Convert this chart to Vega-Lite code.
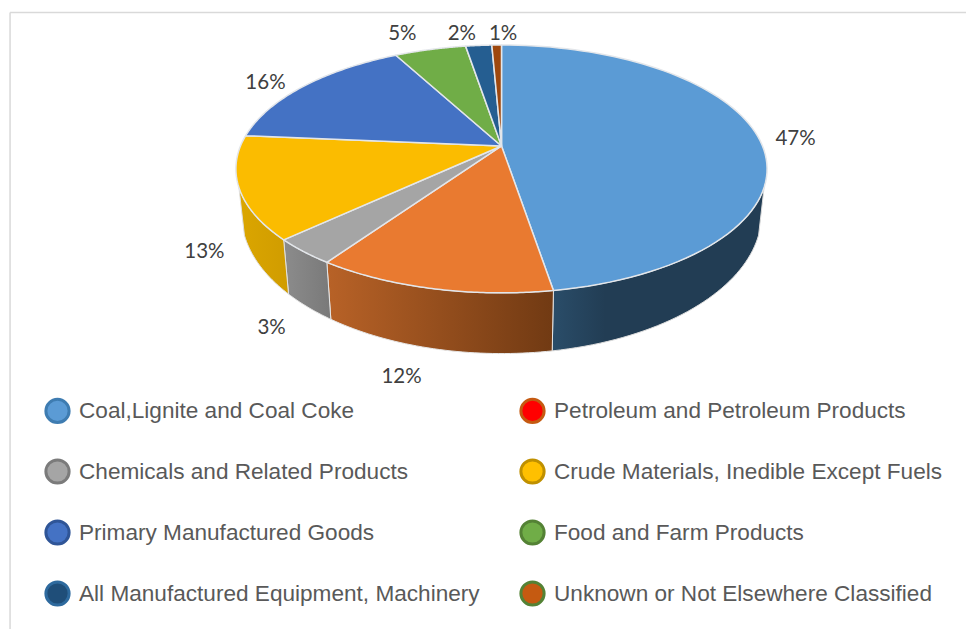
{
  "$schema": "https://vega.github.io/schema/vega-lite/v6.json",
  "width": 966,
  "height": 629,
  "autosize": "none",
  "padding": 0,
  "background": "white",
  "config": {"view": {"stroke": null}},
  "data": {"values": [
    {"category": "Coal,Lignite and Coal Coke", "value": 47.4},
    {"category": "Petroleum and Petroleum Products", "value": 12.2},
    {"category": "Chemicals and Related Products", "value": 3.4},
    {"category": "Crude Materials, Inedible Except Fuels", "value": 13.4},
    {"category": "Primary Manufactured Goods", "value": 15.8},
    {"category": "Food and Farm Products", "value": 5.2},
    {"category": "All Manufactured Equipment, Machinery", "value": 1.9},
    {"category": "Unknown or Not Elsewhere Classified", "value": 0.7}
  ]},
  "transform": [
    {"joinaggregate": [{"op": "sum", "field": "value", "as": "total"}]},
    {"window": [{"op": "sum", "field": "value", "as": "end"}, {"op": "row_number", "as": "n"}], "frame": [null, 0]},
    {"calculate": "2*PI*(datum.end-datum.value)/datum.total", "as": "t0"},
    {"calculate": "2*PI*datum.end/datum.total", "as": "t1"},
    {"calculate": "datum.value/datum.total", "as": "share"},
    {"calculate": "sequence(0,83)", "as": "k"},
    {"flatten": ["k"]},
    {"calculate": "datum.t0+(datum.t1-datum.t0)*(datum.k-1)/80", "as": "ta"},
    {"calculate": "datum.k==0||datum.k==82?0:sin(datum.ta)/(1+0.185*cos(datum.ta))", "as": "topX"},
    {"calculate": "datum.k==0||datum.k==82?0:cos(datum.ta)/(1+0.185*cos(datum.ta))", "as": "topY"},
    {"calculate": "max(datum.t0,1.902)", "as": "tA"},
    {"calculate": "min(datum.t1,4.381)", "as": "tB"},
    {"calculate": "datum.k<=40?datum.tA+(datum.tB-datum.tA)*datum.k/40:(datum.k==82?datum.tA:datum.tB-(datum.tB-datum.tA)*(datum.k-41)/40)", "as": "ts"},
    {"calculate": "datum.k<=40||datum.k==82", "as": "upper"},
    {"calculate": "datum.upper?sin(datum.ts)/(1+0.185*cos(datum.ts)):0.98*sin(datum.ts)/(1+0.182*cos(datum.ts))", "as": "sideX"},
    {"calculate": "datum.upper?cos(datum.ts)/(1+0.185*cos(datum.ts)):1.128*cos(datum.ts)/(1+0.182*cos(datum.ts))-0.355", "as": "sideY"},
    {"calculate": "(datum.t0+datum.t1)/2", "as": "tm"},
    {"calculate": "cos(datum.tm)<-0.2", "as": "front"},
    {"calculate": "datum.front?1.12:1.15", "as": "r"},
    {"calculate": "(datum.front?0.98:1)*datum.r*sin(datum.tm)/(1+(datum.front?0.182:0.185)*datum.r*cos(datum.tm))+[0,-22,-9,-7,-12,-19,-14,7][datum.n-1]/261", "as": "labelX"},
    {"calculate": "(datum.front?1.128:1)*datum.r*cos(datum.tm)/(1+(datum.front?0.182:0.185)*datum.r*cos(datum.tm))-(datum.front?0.355:0)-[4,4,4,11,5,-3,1,1][datum.n-1]/119.7", "as": "labelY"}
  ],
  "layer": [
    {
      "transform": [{"filter": "datum.k==0"}],
      "mark": {"type": "point", "filled": true, "size": 1, "strokeWidth": 0},
      "encoding": {
        "fill": {
          "field": "category", "type": "nominal", "sort": null,
          "scale": {
            "domain": ["Coal,Lignite and Coal Coke", "Petroleum and Petroleum Products", "Chemicals and Related Products", "Crude Materials, Inedible Except Fuels", "Primary Manufactured Goods", "Food and Farm Products", "All Manufactured Equipment, Machinery", "Unknown or Not Elsewhere Classified"],
            "range": ["#5B9BD5", "#FF0000", "#A5A5A5", "#FFC000", "#4472C4", "#70AD47", "#1F4E79", "#C55A11"]
          },
          "legend": {
            "orient": "none", "legendX": 44, "legendY": 397, "title": null,
            "direction": "horizontal", "columns": 2, "gridAlign": "each",
            "symbolType": "circle", "symbolSize": 540, "symbolStrokeWidth": 3, "symbolOpacity": 1,
            "labelFont": "Liberation Sans", "labelFontSize": 22.6, "labelColor": "#595959", "labelLimit": 500,
            "labelOffset": 8, "rowPadding": 24, "columnPadding": 34
          }
        },
        "stroke": {
          "field": "category", "type": "nominal", "sort": null,
          "scale": {
            "domain": ["Coal,Lignite and Coal Coke", "Petroleum and Petroleum Products", "Chemicals and Related Products", "Crude Materials, Inedible Except Fuels", "Primary Manufactured Goods", "Food and Farm Products", "All Manufactured Equipment, Machinery", "Unknown or Not Elsewhere Classified"],
            "range": ["#3E7CB1", "#C55A11", "#7B7B7B", "#BF9000", "#2F5597", "#548235", "#2E6A9E", "#548235"]
          },
          "legend": {
            "orient": "none", "legendX": 44, "legendY": 397, "title": null,
            "direction": "horizontal", "columns": 2, "gridAlign": "each",
            "symbolType": "circle", "symbolSize": 540, "symbolStrokeWidth": 3, "symbolOpacity": 1,
            "labelFont": "Liberation Sans", "labelFontSize": 22.6, "labelColor": "#595959", "labelLimit": 500,
            "labelOffset": 8, "rowPadding": 24, "columnPadding": 34
          }
        }
      }
    },
    {
      "data": {"values": [{"frame": "chart area"}]},
      "mark": {"type": "rule", "color": "#d9d9d9", "strokeWidth": 1.5},
      "encoding": {
        "x": {"datum": -1.883, "type": "quantitative", "scale": {"domain": [-1.9215, 1.7797], "nice": false, "zero": false}, "axis": null},
        "y": {"datum": 1.1144, "type": "quantitative", "scale": {"domain": [-4.0351, 1.2197], "nice": false, "zero": false}, "axis": null},
        "y2": {"datum": -4.0351}
      }
    },
    {
      "data": {"values": [{"frame": "chart area"}]},
      "mark": {"type": "rule", "color": "#d9d9d9", "strokeWidth": 1.5},
      "encoding": {
        "x": {"datum": -1.883, "type": "quantitative"},
        "x2": {"datum": 1.7797},
        "y": {"datum": 1.1144, "type": "quantitative"}
      }
    },
    {
      "transform": [{"filter": "datum.n==1&&datum.tB>datum.tA"}],
      "mark": {"type": "line", "stroke": "#dcdcdc", "strokeWidth": 1, "fill": {"gradient": "linear", "x1": 0, "x2": 1, "y1": 0, "y2": 0, "stops": [{"offset": 0, "color": "#2a4d69"}, {"offset": 0.25, "color": "#223d54"}, {"offset": 1, "color": "#223d54"}]}},
      "encoding": {
        "x": {"field": "sideX", "type": "quantitative"},
        "y": {"field": "sideY", "type": "quantitative"},
        "order": {"field": "k", "type": "quantitative"}
      }
    },
    {
      "transform": [{"filter": "datum.n==2&&datum.tB>datum.tA"}],
      "mark": {"type": "line", "stroke": "#e6e6e6", "strokeWidth": 1, "fill": {"gradient": "linear", "x1": 0, "x2": 1, "y1": 0, "y2": 0, "stops": [{"offset": 0, "color": "#b86227"}, {"offset": 1, "color": "#713a13"}]}},
      "encoding": {
        "x": {"field": "sideX", "type": "quantitative"},
        "y": {"field": "sideY", "type": "quantitative"},
        "order": {"field": "k", "type": "quantitative"}
      }
    },
    {
      "transform": [{"filter": "datum.n==3&&datum.tB>datum.tA"}],
      "mark": {"type": "line", "stroke": "#e6e6e6", "strokeWidth": 1, "fill": {"gradient": "linear", "x1": 0, "x2": 1, "y1": 0, "y2": 0, "stops": [{"offset": 0, "color": "#8c8c8c"}, {"offset": 1, "color": "#797979"}]}},
      "encoding": {
        "x": {"field": "sideX", "type": "quantitative"},
        "y": {"field": "sideY", "type": "quantitative"},
        "order": {"field": "k", "type": "quantitative"}
      }
    },
    {
      "transform": [{"filter": "datum.n==4&&datum.tB>datum.tA"}],
      "mark": {"type": "line", "stroke": "#e0e0e0", "strokeWidth": 1, "fill": {"gradient": "linear", "x1": 0, "x2": 1, "y1": 0, "y2": 0, "stops": [{"offset": 0, "color": "#dba600"}, {"offset": 1, "color": "#d09c00"}]}},
      "encoding": {
        "x": {"field": "sideX", "type": "quantitative"},
        "y": {"field": "sideY", "type": "quantitative"},
        "order": {"field": "k", "type": "quantitative"}
      }
    },
    {
      "transform": [{"filter": "datum.k<=82"}],
      "mark": {"type": "line", "stroke": "#e3e6ea", "strokeWidth": 1.5, "strokeJoin": "round"},
      "encoding": {
        "x": {"field": "topX", "type": "quantitative"},
        "y": {"field": "topY", "type": "quantitative"},
        "order": {"field": "k", "type": "quantitative"},
        "fill": {
          "field": "category", "type": "nominal", "legend": null,
          "scale": {
            "domain": ["Coal,Lignite and Coal Coke", "Petroleum and Petroleum Products", "Chemicals and Related Products", "Crude Materials, Inedible Except Fuels", "Primary Manufactured Goods", "Food and Farm Products", "All Manufactured Equipment, Machinery", "Unknown or Not Elsewhere Classified"],
            "range": ["#5B9BD5", "#E97A30", "#A5A5A5", "#FBBC00", "#4472C4", "#70AD47", "#255E91", "#9E480E"]
          }
        }
      }
    },
    {
      "transform": [{"filter": "datum.k==0"}],
      "mark": {"type": "text", "font": "Lato", "fontSize": 20.5, "color": "#404040"},
      "encoding": {
        "x": {"field": "labelX", "type": "quantitative"},
        "y": {"field": "labelY", "type": "quantitative"},
        "text": {"field": "share", "type": "quantitative", "format": ".0%"}
      }
    }
  ],
  "resolve": {
    "scale": {"fill": "independent", "stroke": "independent"},
    "legend": {"fill": "independent", "stroke": "independent"}
  }
}
